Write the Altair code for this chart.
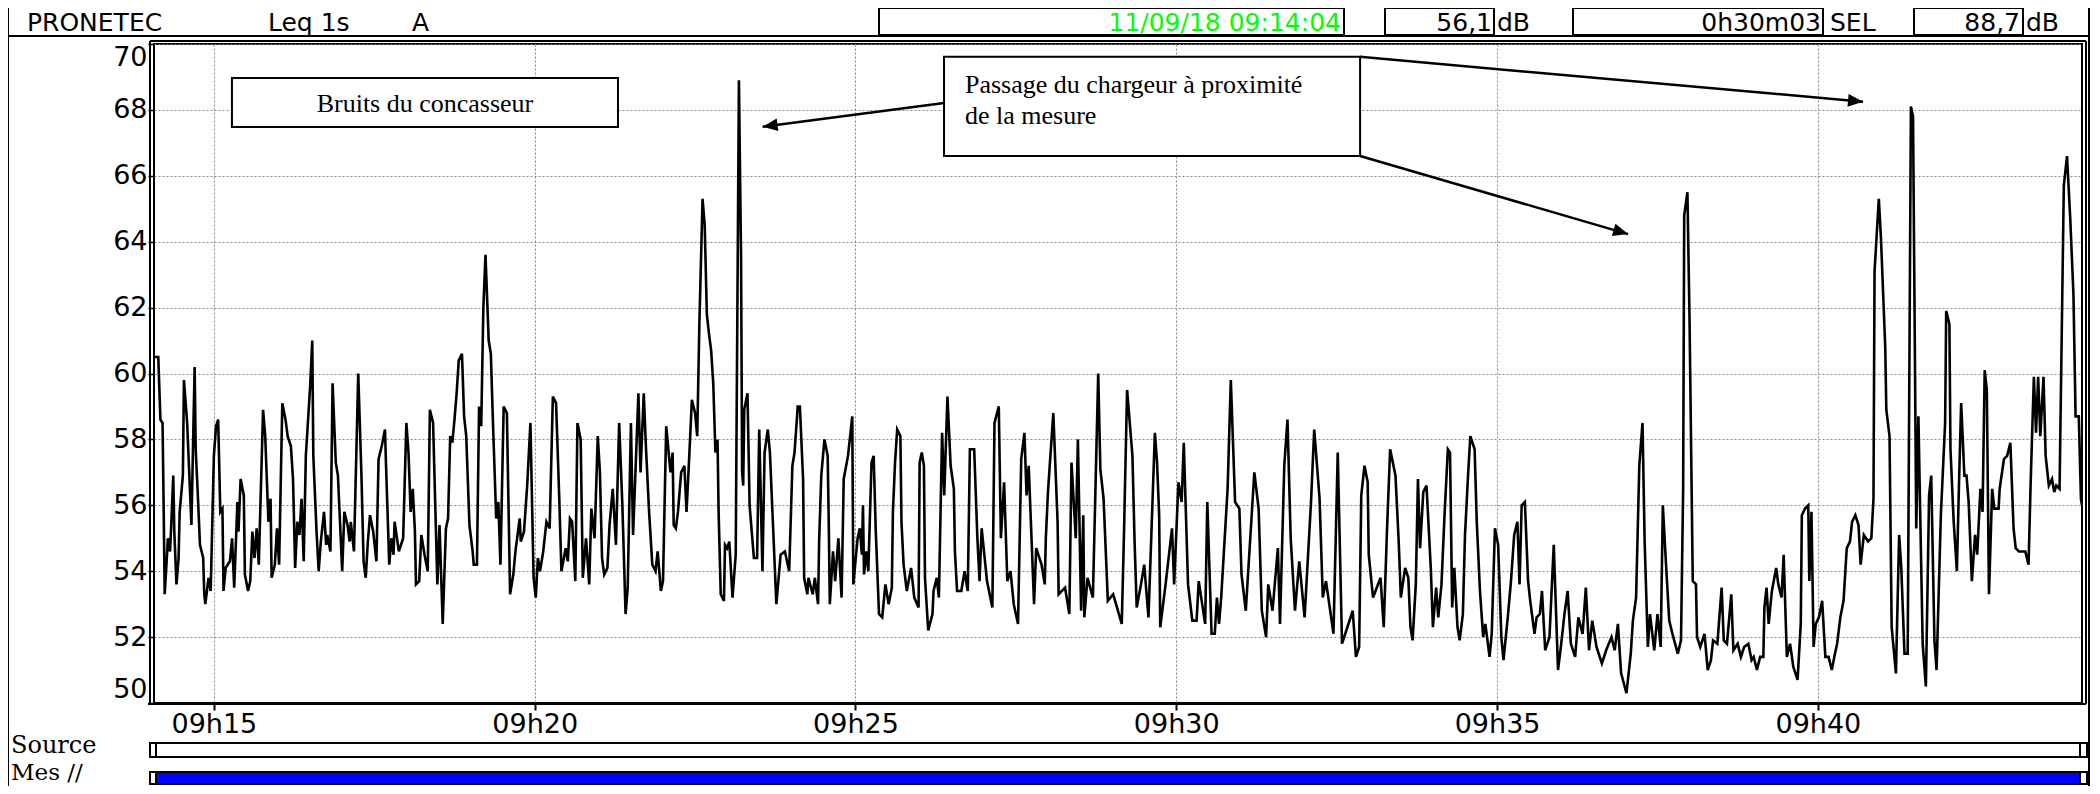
import json
import math
import altair as alt
import pandas as pd

# ---------------- values ----------------
# seconds elapsed since 09:14:04 and Leq 1s dB(A), in three stretches
seg_a_s = [0, 4, 6, 8, 9, 10, 12, 13, 15, 16, 18, 19, 21, 23, 24, 27, 28, 31, 35, 38, 39, 41, 43, 46, 47, 48, 51, 53, 56, 58,
           60, 62, 64, 65, 67, 71, 73, 75, 78, 79, 81, 84, 85, 88, 90, 92, 94, 96, 98, 102, 104, 107, 109, 110, 113, 115, 117, 120, 123, 125,
           128, 130, 132, 134, 136, 138, 140, 142, 146, 148, 149, 152, 154, 156, 159, 161, 162, 165, 167, 170, 172, 176, 178, 181, 183, 184, 187, 191, 194, 196,
           198, 200, 202, 205, 208, 210, 213, 216, 217, 220, 222, 224, 225, 229, 233, 236, 238, 240, 242, 244, 245, 248, 250, 253, 256, 258, 261, 265, 267, 270,
           273, 275, 277, 279, 281, 283, 285, 288, 290, 292, 295, 298, 299, 302, 304, 306, 308, 310, 313, 315, 317, 320, 322, 324, 327, 330, 333, 336, 338, 342,
           343, 346, 349, 352, 355, 357, 359, 361, 364, 367, 370, 373, 376, 379, 381, 385, 387, 389, 391, 394, 396, 399, 401, 404, 407, 409, 412, 415, 417, 419,
           421, 424, 426, 429, 432, 435, 438, 441, 443, 446, 448, 450, 453, 455, 458, 460, 463, 466, 469, 471, 474, 476, 479, 483, 485, 486, 488, 490, 493, 496,
           498, 501, 503, 506, 508]
seg_a_db = [60.5, 60.5, 58.6, 58.5, 56.0, 53.3, 54.4, 55.0, 54.6, 55.3, 56.9, 55.2, 53.6, 54.4, 55.8, 56.9, 59.8, 58.5, 55.4, 60.2, 57.7, 56.3, 54.8, 54.4, 53.3, 53.0, 53.8, 53.4, 57.5, 58.4,
            58.6, 55.8, 55.9, 53.4, 54.1, 54.3, 55.0, 53.5, 56.1, 55.2, 56.8, 56.3, 53.9, 53.4, 53.7, 55.2, 54.4, 55.3, 54.2, 58.9, 58.1, 55.5, 56.2, 53.8, 54.2, 55.3, 54.2, 59.1, 58.6, 58.1,
            57.8, 56.8, 54.1, 55.5, 55.1, 56.2, 54.3, 57.5, 59.6, 61.0, 57.5, 55.2, 54.0, 54.9, 55.8, 54.8, 55.1, 54.6, 59.7, 57.3, 56.9, 54.0, 55.8, 55.4, 54.9, 55.5, 54.6, 60.0, 56.9, 54.3,
            53.8, 54.9, 55.7, 55.2, 54.3, 57.4, 57.8, 58.3, 57.2, 54.2, 55.0, 54.5, 55.5, 54.6, 55.0, 58.5, 57.6, 55.8, 56.5, 55.2, 53.6, 53.7, 55.1, 54.5, 54.0, 58.9, 58.5, 53.6, 55.4, 52.4,
            55.3, 55.6, 58.1, 57.9, 58.6, 59.4, 60.4, 60.6, 58.7, 58.1, 55.4, 54.6, 54.2, 54.2, 59.0, 58.4, 62.0, 63.6, 61.0, 60.6, 58.5, 55.6, 56.1, 54.2, 59.0, 58.8, 53.3, 53.9, 54.6, 55.6,
            54.9, 55.2, 56.6, 58.5, 53.8, 53.2, 54.4, 54.0, 54.6, 55.5, 55.3, 59.3, 59.1, 56.2, 54.0, 54.7, 54.3, 55.6, 55.5, 53.7, 58.5, 58.0, 53.8, 55.0, 53.6, 55.9, 55.0, 58.1, 57.0, 54.4,
            53.9, 54.1, 55.4, 56.5, 54.8, 58.5, 56.0, 52.7, 53.5, 58.5, 55.1, 56.8, 59.4, 57.0, 59.4, 57.8, 55.8, 54.2, 54.0, 54.6, 53.4, 53.7, 58.4, 57.0, 57.6, 55.4, 55.3, 55.8, 57.0, 57.2,
            55.8, 57.8, 59.2, 58.8, 58.1]

seg_b_s = [510, 513, 515, 517, 519, 521, 523, 525, 527, 528, 530, 533, 534, 536, 538, 541, 544, 547, 549, 550, 551, 552, 555, 557, 561, 564, 566, 569, 571, 574,
           576, 579, 582, 586, 590, 594, 597, 599, 602, 604, 607, 608, 611, 612, 616, 618, 621, 622, 624, 627, 630, 631, 632, 635, 637, 640, 643, 645, 649, 653,
           654, 658, 660, 662, 663, 664, 666, 668, 671, 673, 675, 678, 681, 684, 687, 690, 691, 693, 695, 698, 699, 701, 704, 708, 711, 715, 716, 718, 720, 721,
           724, 728, 729, 732, 734, 737, 739, 742, 745, 748, 749, 751, 755, 758, 761, 763, 767, 770, 772, 774, 779, 784, 786, 790, 792, 795, 798, 801, 804, 808,
           811, 814, 816, 818, 823, 825, 830, 833, 834, 836, 841, 845, 846, 852, 856, 858, 862, 864, 867, 869, 870, 873, 878, 883, 885, 888, 892, 897, 905, 907,
           910, 915, 917, 919, 923, 926, 930, 936, 938, 940, 941, 946, 952, 954, 958, 961, 963, 967, 971, 975, 977, 983, 985, 989, 992, 994, 996, 998, 1004, 1007,
           1011, 1015, 1017, 1021, 1029, 1033, 1036, 1040, 1042, 1046, 1051, 1053, 1057, 1060, 1063, 1067, 1071, 1076, 1082, 1085, 1090, 1093, 1096, 1103, 1107, 1111, 1115, 1121, 1124, 1127,
           1129, 1132, 1135, 1136, 1140, 1147, 1150, 1153, 1156, 1161, 1164]
seg_b_db = [61.5, 65.3, 64.5, 61.8, 61.2, 60.7, 59.7, 57.6, 58.0, 55.8, 53.3, 53.1, 54.8, 54.7, 54.9, 53.2, 54.5, 68.9, 63.5, 57.0, 56.6, 58.9, 59.4, 56.0, 54.4, 54.4, 58.3, 54.0, 57.6, 58.3,
            57.6, 55.3, 53.0, 54.5, 54.6, 54.0, 57.2, 57.6, 59.0, 59.0, 56.8, 53.8, 53.3, 53.8, 53.3, 53.8, 53.0, 54.9, 56.9, 58.0, 57.5, 55.5, 53.0, 54.6, 53.7, 55.0, 53.2, 56.8, 57.5, 58.7,
            53.6, 55.0, 55.3, 54.5, 56.0, 53.9, 54.6, 54.0, 57.3, 57.5, 55.2, 52.7, 52.6, 53.6, 53.0, 53.5, 55.8, 57.3, 58.3, 58.1, 55.5, 54.2, 53.4, 54.1, 53.2, 52.9, 57.3, 57.6, 57.2, 53.8,
            52.2, 52.7, 53.4, 53.8, 53.2, 58.2, 56.3, 59.3, 57.2, 56.5, 54.6, 53.4, 53.4, 54.0, 53.4, 57.7, 57.7, 55.0, 53.7, 55.3, 53.7, 52.9, 58.5, 59.0, 55.0, 56.7, 53.7, 54.0, 53.0, 52.4,
            57.4, 58.2, 56.3, 57.2, 53.0, 54.7, 54.2, 53.6, 55.0, 56.4, 58.8, 55.5, 53.3, 53.5, 52.7, 57.3, 55.0, 58.0, 52.8, 55.7, 52.6, 53.8, 53.2, 60.0, 57.1, 56.2, 53.1, 53.3, 52.4, 55.0,
            59.5, 57.5, 54.9, 52.9, 53.6, 54.2, 52.6, 58.2, 57.3, 55.7, 52.3, 53.6, 55.3, 53.6, 56.7, 56.1, 57.9, 53.6, 52.5, 52.5, 53.7, 52.4, 56.1, 52.1, 52.1, 53.2, 52.4, 53.2, 56.5, 59.8,
            56.1, 55.9, 53.9, 52.8, 57.0, 55.9, 52.8, 52.0, 53.6, 52.8, 54.7, 52.4, 57.2, 58.6, 55.0, 52.8, 54.3, 52.6, 56.1, 58.3, 56.2, 53.2, 53.7, 52.1, 57.6, 51.8, 52.2, 52.8, 51.4, 51.7,
            56.3, 57.2, 56.7, 54.5, 53.2, 53.8, 52.3, 55.2, 57.7, 56.9, 54.9]

seg_c_s = [1166, 1170, 1173, 1175, 1177, 1180, 1182, 1184, 1187, 1190, 1194, 1196, 1199, 1201, 1204, 1207, 1210, 1212, 1214, 1216, 1219, 1221, 1224, 1226, 1229, 1231, 1235, 1237, 1240, 1243,
           1245, 1249, 1251, 1254, 1257, 1260, 1262, 1266, 1269, 1272, 1275, 1277, 1279, 1282, 1285, 1287, 1291, 1293, 1296, 1298, 1301, 1305, 1309, 1313, 1316, 1319, 1322, 1325, 1329, 1332,
           1336, 1339, 1342, 1345, 1349, 1354, 1358, 1363, 1366, 1369, 1372, 1377, 1381, 1383, 1386, 1389, 1392, 1394, 1397, 1399, 1403, 1406, 1409, 1411, 1414, 1417, 1420, 1425, 1428, 1430,
           1431, 1434, 1436, 1439, 1442, 1443, 1446, 1450, 1453, 1456, 1458, 1462, 1466, 1468, 1471, 1475, 1477, 1481, 1484, 1487, 1491, 1494, 1496, 1499, 1502, 1505, 1506, 1508, 1510, 1513,
           1517, 1519, 1522, 1524, 1527, 1530, 1533, 1537, 1540, 1541, 1544, 1547, 1548, 1550, 1552, 1554, 1557, 1560, 1563, 1566, 1569, 1572, 1574, 1577, 1580, 1583, 1586, 1588, 1591, 1594,
           1596, 1599, 1603, 1606, 1608, 1609, 1613, 1615, 1619, 1620, 1623, 1625, 1629, 1632, 1634, 1637, 1640, 1643, 1645, 1648, 1650, 1654, 1657, 1660, 1662, 1665, 1667, 1671, 1675, 1676,
           1679, 1680, 1683, 1686, 1688, 1690, 1693, 1695, 1697, 1700, 1703, 1705, 1708, 1710, 1712, 1714, 1716, 1719, 1721, 1725, 1726, 1730, 1733, 1736, 1739, 1741, 1744, 1747, 1750, 1753,
           1755, 1758, 1760, 1762, 1764, 1767, 1769, 1772, 1775, 1777, 1779, 1782, 1786, 1789, 1792, 1795, 1797, 1800, 1802, 1803]
seg_c_db = [53.2, 54.1, 53.8, 52.3, 51.9, 53.6, 56.8, 54.7, 56.4, 56.6, 54.1, 52.3, 53.5, 52.6, 53.6, 55.8, 57.7, 57.6, 52.9, 54.1, 52.3, 51.9, 52.7, 55.1, 57.0, 58.1, 57.7, 55.5, 53.4, 52.0,
            52.4, 51.4, 52.1, 55.3, 54.8, 52.0, 51.3, 52.6, 53.7, 55.1, 55.5, 53.6, 56.0, 56.1, 53.7, 53.1, 52.1, 52.6, 52.7, 53.4, 51.6, 52.0, 54.8, 51.0, 51.8, 52.7, 53.4, 51.8, 51.4, 52.6,
            52.1, 53.5, 51.6, 52.5, 51.7, 51.2, 51.6, 52.0, 51.6, 52.4, 50.9, 50.3, 51.5, 52.5, 53.2, 57.2, 58.5, 54.9, 51.7, 52.7, 51.6, 52.7, 51.7, 56.0, 54.2, 52.5, 52.1, 51.5, 51.9, 56.5,
            64.8, 65.5, 61.6, 53.7, 53.6, 52.0, 51.7, 52.1, 51.0, 51.3, 51.9, 51.8, 53.5, 51.9, 51.8, 53.3, 51.6, 51.8, 51.4, 51.7, 51.8, 51.3, 51.4, 51.0, 51.4, 51.4, 52.9, 53.5, 52.4, 53.4,
            54.1, 53.6, 53.2, 54.5, 51.4, 51.8, 51.1, 50.7, 52.4, 55.7, 55.9, 56.0, 53.7, 55.8, 51.7, 52.4, 52.6, 53.1, 51.4, 51.4, 51.0, 51.5, 51.8, 52.6, 53.1, 54.7, 54.9, 55.5, 55.7, 55.4,
            54.2, 55.1, 54.9, 55.0, 56.2, 63.1, 65.3, 64.1, 60.8, 58.9, 58.1, 52.3, 50.9, 55.1, 54.1, 51.5, 51.5, 68.1, 67.8, 55.3, 58.7, 51.8, 50.5, 56.3, 56.9, 51.9, 51.0, 55.7, 58.5, 61.9,
            61.5, 57.7, 55.5, 54.0, 56.7, 59.1, 56.9, 56.9, 56.1, 53.7, 55.1, 54.5, 56.5, 55.8, 60.1, 59.5, 53.3, 56.5, 55.9, 55.9, 56.5, 57.4, 57.5, 57.9, 55.3, 54.7, 54.6, 54.6, 54.6, 54.2,
            56.7, 59.9, 58.2, 59.9, 58.1, 59.9, 57.5, 56.6, 56.8, 56.4, 56.6, 56.5, 65.7, 66.6, 64.7, 62.4, 58.7, 58.7, 56.2, 56.0]

duration_s = 1803
y_ticks = [50, 52, 54, 56, 58, 60, 62, 64, 66, 68, 70]
x_tick_seconds = [56, 356, 656, 956, 1256, 1556]
x_tick_labels = ["09h15", "09h20", "09h25", "09h30", "09h35", "09h40"]

header_brand = "PRONETEC"
header_index = "Leq 1s"
header_weighting = "A"
start_stamp = "11/09/18 09:14:04"
leq_global = "56,1"
duration_text = "0h30m03"
sel_label = "SEL"
sel_value = "88,7"
unit = "dB"
row_labels = ["Source", "Mes //"]

note_crusher = "Bruits du concasseur"
note_loader = ["Passage du chargeur à proximité", "de la mesure"]

# annotation geometry in data units (seconds, dB)
note_boxes = {"t": [72.9, 738.8], "t2": [433.9, 1127.9], "db": [68.97, 69.61], "db2": [67.48, 66.60]}
arrow_from = {"t": [738.8, 1127.9, 1127.9], "db": [68.21, 69.61, 66.60]}
arrow_to = {"t": [569.2, 1598.2, 1378.5], "db": [67.49, 68.25, 64.23]}

# ---------------- layout ----------------
W, H = 1928, 659
OX, OY = 154, 44          # page position of the plot origin
FRAME_FONT = "DejaVu Sans"
SERIF = "Liberation Serif"

df = pd.DataFrame({"t": seg_a_s + seg_b_s + seg_c_s, "db": seg_a_db + seg_b_db + seg_c_db})
assert len(seg_a_s) == len(seg_a_db) and len(seg_b_s) == len(seg_b_db) and len(seg_c_s) == len(seg_c_db)

grid_style = dict(grid=True, gridColor="#8a8a8a", gridDash=[2, 2], gridWidth=1)
xscale = alt.Scale(domain=[0, duration_s], nice=False, zero=False)
yscale = alt.Scale(domain=[50, 70], nice=False, zero=False)
label_expr = "%s[indexof(%s, datum.value)]" % (json.dumps(x_tick_labels), json.dumps(x_tick_seconds))
xaxis = alt.Axis(values=x_tick_seconds, labelExpr=label_expr, title=None, domain=False,
                 ticks=True, tickColor="black", tickSize=7, tickWidth=2,
                 labelFont=FRAME_FONT, labelFontSize=27, labelColor="black", labelPadding=1,
                 labelFlush=False, labelOverlap=False, **grid_style)
yaxis = alt.Axis(values=y_ticks, format="d", title=None, domain=False,
                 ticks=True, tickColor="black", tickSize=6, tickWidth=1.5,
                 labelFont=FRAME_FONT, labelFontSize=27, labelColor="black", labelPadding=1,
                 labelFlush=True, labelOverlap=False, **grid_style)


def X(field):
    return alt.X(field, type="quantitative", scale=xscale, axis=xaxis)


def Y(field):
    return alt.Y(field, type="quantitative", scale=yscale, axis=yaxis)


line = alt.Chart(df).mark_line(color="black", strokeWidth=2.6, clip=True).encode(
    x=X("t"), y=Y("db"), order=alt.Order("t:Q"))

one = pd.DataFrame({"k": [0]})


def seg(x1, y1, x2, y2, w=2, color="black"):
    return alt.Chart(one).mark_rule(color=color, strokeWidth=w).encode(
        x=alt.value(x1 - OX), y=alt.value(y1 - OY), x2=alt.value(x2 - OX), y2=alt.value(y2 - OY))


def rect(x1, y1, x2, y2, fill="white", w=2):
    return alt.Chart(one).mark_rect(fill=fill, stroke="black", strokeWidth=w).encode(
        x=alt.value(x1 - OX), y=alt.value(y1 - OY), x2=alt.value(x2 - OX), y2=alt.value(y2 - OY))


def txt(x, y, s, size, font, align="left", color="black"):
    return alt.Chart(one).mark_text(text=s, font=font, fontSize=size, align=align,
                                    baseline="alphabetic", color=color).encode(
        x=alt.value(x - OX), y=alt.value(y - OY))


frame = [
    # outer frame and header row
    seg(8, 7, 2089, 7), seg(8, 7, 8, 790), seg(2089, 7, 2089, 790), seg(8, 36, 2089, 36),
    rect(879, 8, 1344, 35), rect(1385, 8, 1494, 35), rect(1573, 8, 1823, 35), rect(1914, 8, 2023, 35),
    # double borders around the graph panel
    seg(150, 41, 2086, 41), seg(150, 41, 150, 704), seg(2086, 41, 2086, 704), seg(148, 704, 2086, 704),
    # source / measurement rows
    rect(150, 743, 2087, 757), rect(150, 743, 156, 757), rect(2080, 743, 2087, 757),
    rect(150, 772, 2087, 784, fill="#0000ff"), rect(150, 772, 156, 784), rect(2080, 772, 2087, 784),
]

labels = [
    txt(27, 31, header_brand, 25, FRAME_FONT),
    txt(268, 31, header_index, 25, FRAME_FONT),
    txt(412, 31, header_weighting, 25, FRAME_FONT),
    txt(1341, 31, start_stamp, 25, FRAME_FONT, align="right", color="#00ff00"),
    txt(1492, 31, leq_global, 25, FRAME_FONT, align="right"),
    txt(1497, 31, unit, 25, FRAME_FONT),
    txt(1821, 31, duration_text, 25, FRAME_FONT, align="right"),
    txt(1830, 31, sel_label, 25, FRAME_FONT),
    txt(2020, 31, sel_value, 25, FRAME_FONT, align="right"),
    txt(2026, 31, unit, 25, FRAME_FONT),
    txt(11, 753, row_labels[0], 24, "DejaVu Serif"),
    txt(11, 780, row_labels[1], 23, "DejaVu Serif"),
]

boxes = alt.Chart(pd.DataFrame(note_boxes)).mark_rect(fill="white", stroke="black", strokeWidth=2).encode(
    x=X("t"), x2="t2", y=Y("db"), y2="db2")

note1 = alt.Chart(pd.DataFrame({"t": [253.4], "db": [67.94], "s": [note_crusher]})).mark_text(
    font=SERIF, fontSize=26, align="center", baseline="alphabetic", color="black").encode(
    x=X("t"), y=Y("db"), text="s:N")
note2 = alt.Chart(pd.DataFrame({"t": [758.4, 758.4], "db": [68.51, 67.57], "s": note_loader})).mark_text(
    font=SERIF, fontSize=26, align="left", baseline="alphabetic", color="black").encode(
    x=X("t"), y=Y("db"), text="s:N")

kx, ky = W / duration_s, H / 20.0
angles = []
for t0, d0, t1, d1 in zip(arrow_from["t"], arrow_from["db"], arrow_to["t"], arrow_to["db"]):
    dx = (t1 - t0) * kx
    dy = -(d1 - d0) * ky
    angles.append(math.degrees(math.atan2(dx, -dy)) % 360)

arrow_df = pd.DataFrame({"t": arrow_from["t"], "db": arrow_from["db"],
                         "t2": arrow_to["t"], "db2": arrow_to["db"], "angle": angles})
shafts = alt.Chart(arrow_df).mark_rule(color="black", strokeWidth=2.5).encode(
    x=X("t"), y=Y("db"), x2="t2", y2="db2")
heads = alt.Chart(arrow_df).mark_point(shape="M0,0L-0.85,2L0.85,2Z", filled=True, color="black",
                                       opacity=1, size=225).encode(
    x=X("t2"), y=Y("db2"), angle=alt.Angle("angle:Q", scale=None))

chart = alt.layer(line, boxes, note1, note2, shafts, heads, *frame, *labels).properties(
    width=W, height=H,
    autosize=alt.AutoSizeParams(type="none"),
    padding={"left": 146, "top": 36, "right": 10, "bottom": 83},
    background="white",
).configure_view(stroke="black", strokeWidth=2)

chart.save("out.html", embed_options={"renderer": "svg", "actions": False})
